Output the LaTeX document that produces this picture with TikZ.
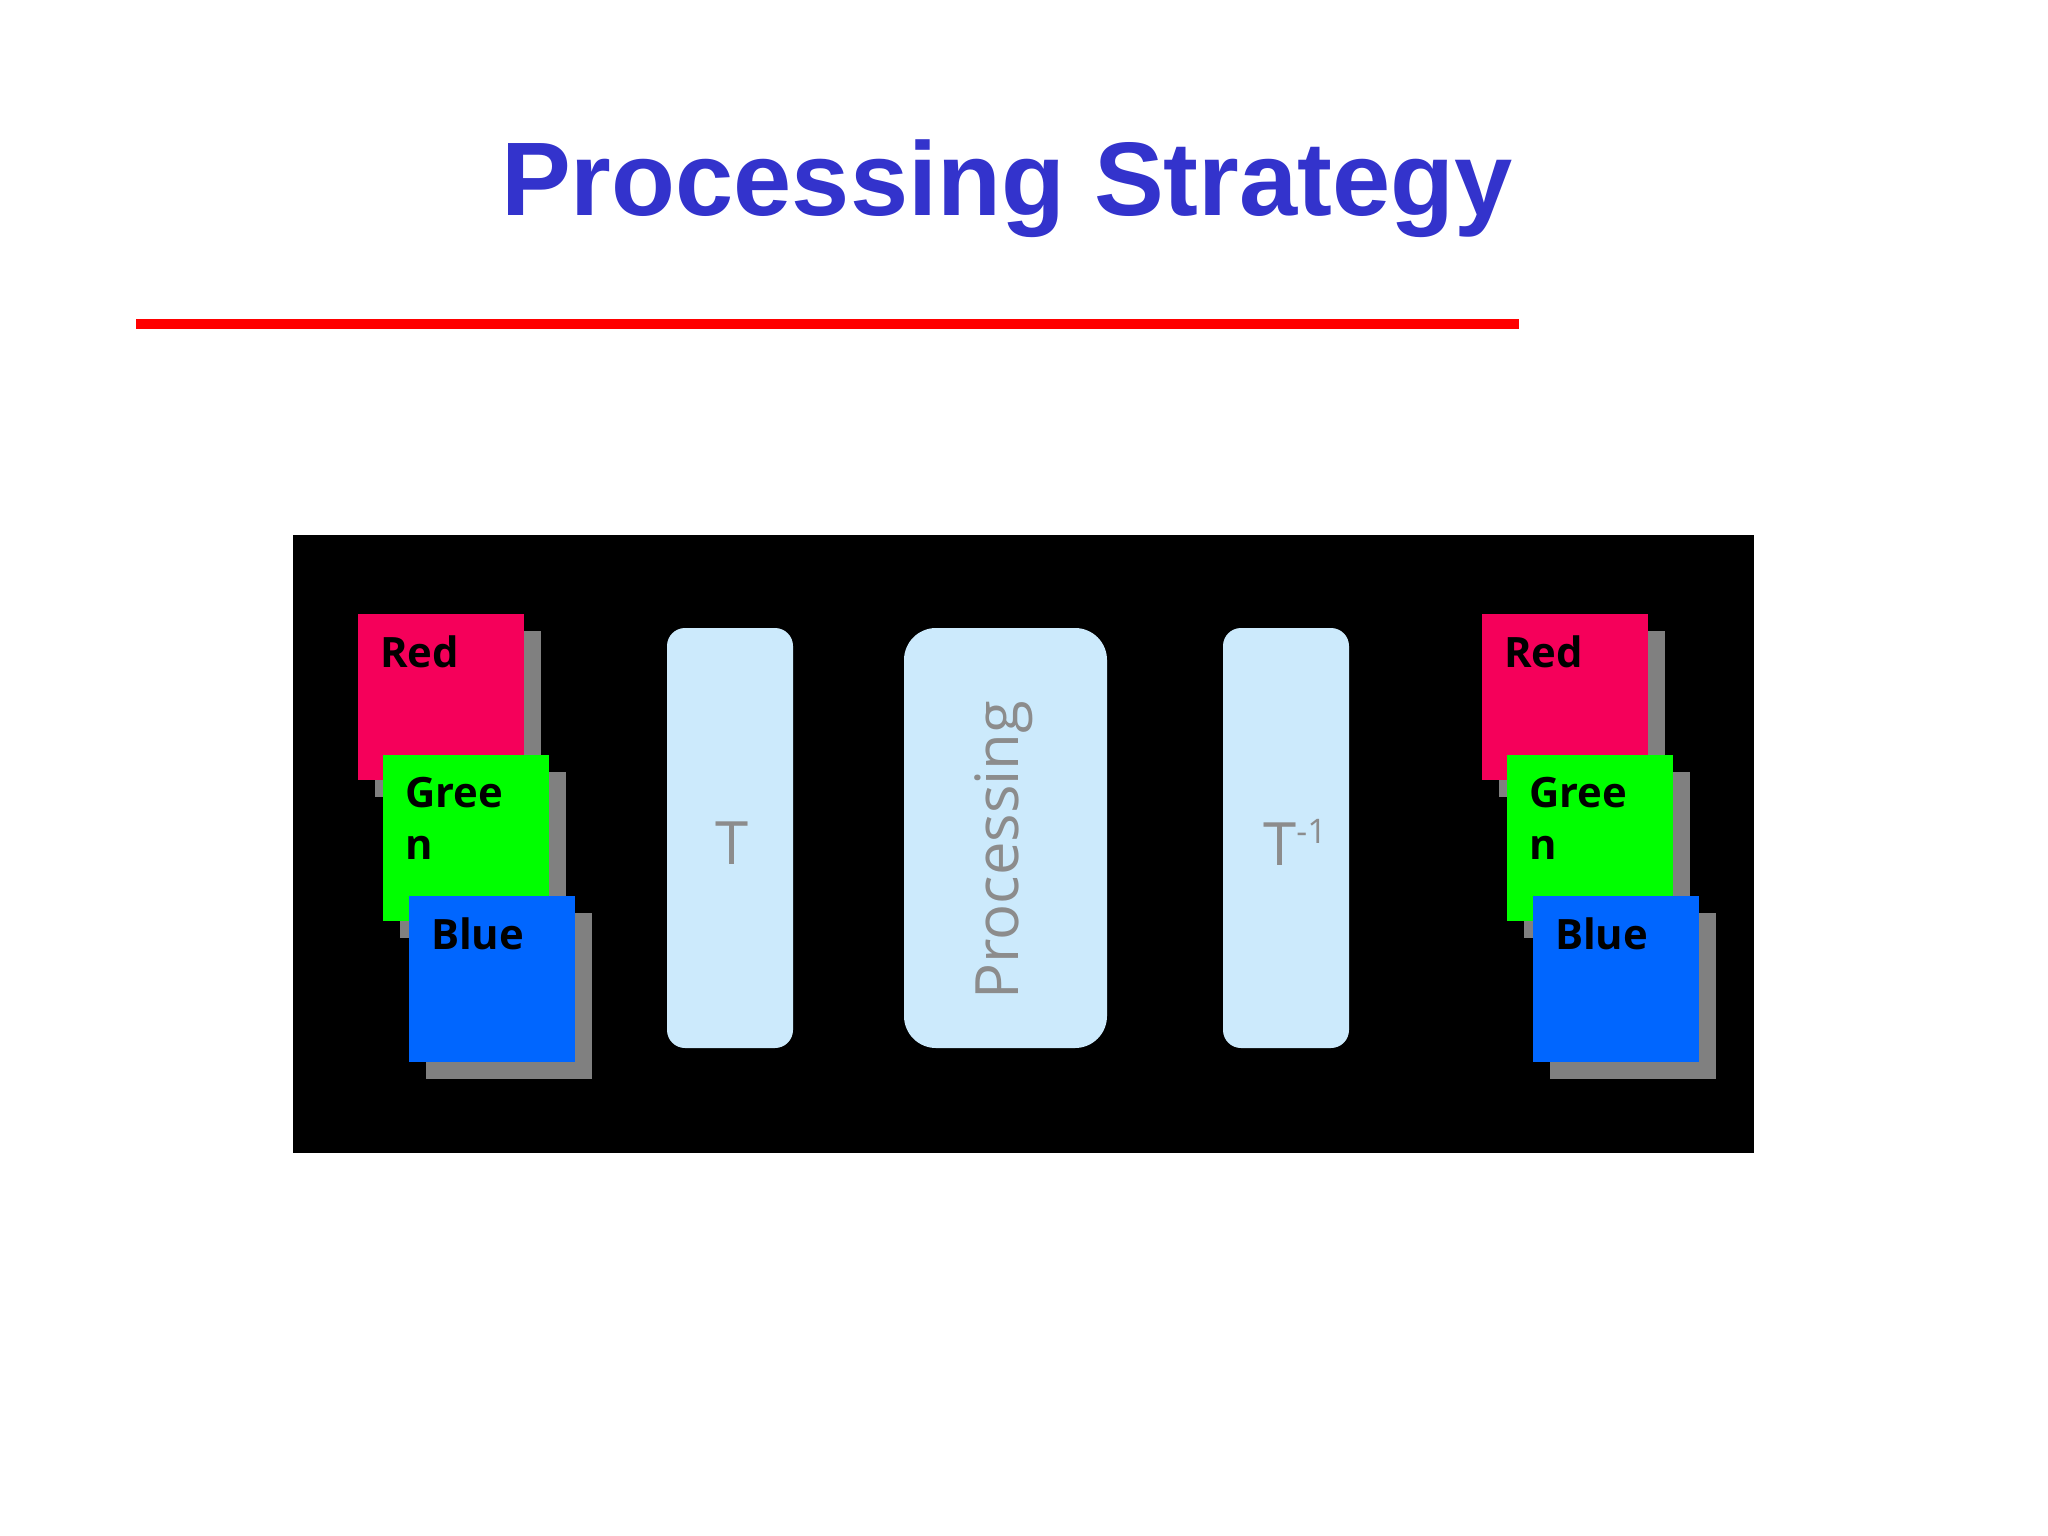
\documentclass[tikz,border=0pt]{standalone}
\usepackage{fontspec}
\usetikzlibrary{shadows}
\newfontfamily\titlefont{Liberation Sans}
\newfontfamily\osans{Open Sans}
\definecolor{titleblue}{RGB}{51,51,204}
\definecolor{sqred}{RGB}{245,0,90}
\definecolor{sqgreen}{RGB}{0,255,0}
\definecolor{sqblue}{RGB}{0,102,255}
\definecolor{shadowgray}{RGB}{128,128,128}
\definecolor{boxfill}{RGB}{204,234,252}
\definecolor{boxtext}{RGB}{140,140,140}
\tikzset{
  sq/.style={draw=none, inner sep=0, outer sep=0, minimum width=166bp, minimum height=166bp, anchor=north west,
    drop shadow={shadow xshift=17bp, shadow yshift=-17bp, fill=shadowgray, opacity=1}},
  sqlabel/.style={anchor=base west, inner sep=0, outer sep=0, align=left,
    font=\osans\bfseries\fontsize{42}{52}\selectfont, text=black},
  stagebox/.style={fill=boxfill, draw=none, inner sep=0, outer sep=0, anchor=north west, minimum height=420bp},
  stagetext/.style={text=boxtext, font=\osans\fontsize{60}{72}\selectfont, inner sep=0}
}
\begin{document}
\begin{tikzpicture}[x=1bp, y=-1bp]
\useasboundingbox (0,0) rectangle (2048,1536);
\fill[white] (0,0) rectangle (2048,1536);
% title
\node[anchor=base, inner sep=0, text=titleblue, font=\titlefont\bfseries\fontsize{105}{120}\selectfont] (title) at (1007,215) {Processing Strategy};
\fill[red] (136,319) rectangle (1519,329);
% black panel
\node[fill=black, inner sep=0, outer sep=0, anchor=north west, minimum width=1461bp, minimum height=618bp] (panel) at (293,535) {};
% left stack
\node[sq, fill=sqred] (rL) at (358,614) {};
\node[sqlabel] (rLt) at ([xshift=22bp, yshift=-53bp]rL.north west) {Red};
\node[sq, fill=sqgreen] (gL) at (383,755) {};
\node[sqlabel] (gLt) at ([xshift=22bp, yshift=-104bp]gL.north west) {Gree\\n};
\node[sq, fill=sqblue] (bL) at (409,896) {};
\node[sqlabel] (bLt) at ([xshift=22bp, yshift=-53bp]bL.north west) {Blue};
% right stack
\node[sq, fill=sqred] (rR) at (1482,614) {};
\node[sqlabel] (rRt) at ([xshift=22bp, yshift=-53bp]rR.north west) {Red};
\node[sq, fill=sqgreen] (gR) at (1507,755) {};
\node[sqlabel] (gRt) at ([xshift=22bp, yshift=-104bp]gR.north west) {Gree\\n};
\node[sq, fill=sqblue] (bR) at (1533,896) {};
\node[sqlabel] (bRt) at ([xshift=22bp, yshift=-53bp]bR.north west) {Blue};
% stage boxes
\node[stagebox, rounded corners=18bp, minimum width=126bp] (T) at (667,628) {};
\node[stagetext] (Tt) at ([xshift=2bp, yshift=-5bp]T.center) {T};
\node[stagebox, rounded corners=32bp, minimum width=203bp] (P) at (904,628) {};
\node[stagetext, rotate=90] (Pt) at ([xshift=-2bp, yshift=-12bp]P.center) {Processing};
\node[stagebox, rounded corners=18bp, minimum width=126bp] (Ti) at (1223,628) {};
\node[stagetext] (Tit) at ([xshift=9bp, yshift=-4bp]Ti.center) {T\raisebox{22bp}{\fontsize{34}{40}\selectfont -1}};
\end{tikzpicture}
\end{document}
